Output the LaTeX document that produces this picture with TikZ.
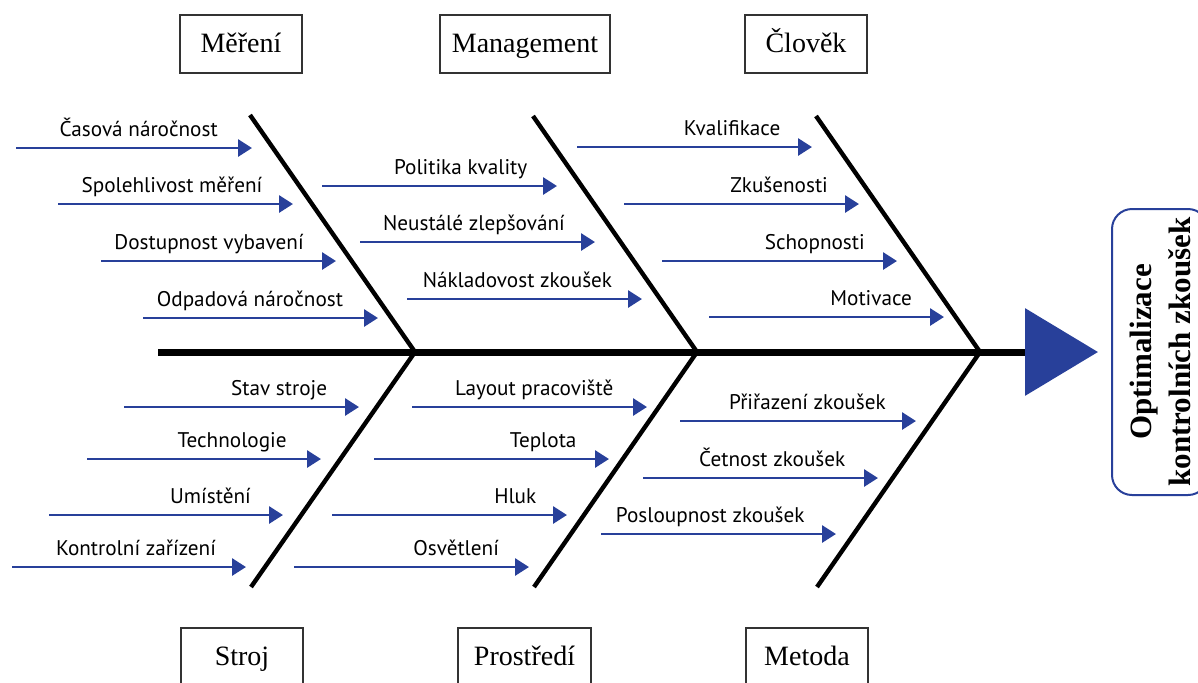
\documentclass[tikz,border=0pt]{standalone}
\usepackage{fontspec}
\setmainfont{Liberation Serif}
\newfontfamily\causefont{PT Sans}
\usetikzlibrary{positioning,arrows.meta}
\definecolor{causeblue}{HTML}{28409A}
\definecolor{boxgray}{HTML}{333333}

\begin{document}
\begin{tikzpicture}[x=0.5pt,y=-0.5pt,
    cat/.style={draw=boxgray, line width=0.6pt, minimum width=61pt, minimum height=29pt, inner xsep=6pt, text height=11pt, text depth=3pt, font=\fontsize{14}{16}\selectfont},
    effect/.style={draw=causeblue, line width=1pt, rounded corners=10pt, rotate=90, minimum width=143pt, minimum height=48pt, align=center, font=\bfseries\fontsize{15.5}{19.5}\selectfont},
    bone/.style={line width=2.2pt},
    spine/.style={line width=3.5pt, shorten >=6.5pt, -{Triangle[length=36.5pt,width=43pt,color=causeblue]}},
    cause/.style={draw=causeblue, line width=1.45pt, -{Triangle[length=7pt,width=8.5pt]}},
    lbl/.style={anchor=base, yshift=6pt, inner sep=0pt, text=black, font=\causefont\fontsize{10.6}{12}\selectfont},
  ]
  \useasboundingbox (0,0) rectangle (1198,682);

  % categories
  \node[cat] (meas) at (241,44) {Měření};
  \node[cat, minimum width=85pt] (mgmt) at (525,44) {Management};
  \node[cat] (man) at (806,44) {Člověk};
  \node[cat] (mach) at (242,657) {Stroj};
  \node[cat, minimum width=66.5pt] (env) at (524.5,657) {Prostředí};
  \node[cat] (meth) at (807,657) {Metoda};

  % effect and spine
  \node[effect] (effect) at (1160,352) {Optimalizace\\kontrolních zkoušek};
  \coordinate (tail) at (158,352);
  \draw[spine] (tail) -- (effect);

  % bones
  \coordinate (j1) at (415,352);
  \coordinate (j2) at (697,352);
  \coordinate (j3) at (980,352);
  \coordinate (b1t) at (250,115);
  \coordinate (b1b) at (251,587);
  \coordinate (b2t) at (533,116);
  \coordinate (b2b) at (534,587);
  \coordinate (b3t) at (816,116);
  \coordinate (b3b) at (817,587);
  \draw[bone] (b1t) -- (j1) -- (b1b);
  \draw[bone] (b2t) -- (j2) -- (b2b);
  \draw[bone] (b3t) -- (j3) -- (b3b);

  % Měření
  \coordinate (m1) at (16,148);  \coordinate (m1e) at (252,148);
  \coordinate (m2) at (58,204);  \coordinate (m2e) at (293,204);
  \coordinate (m3) at (101,261); \coordinate (m3e) at (336,261);
  \coordinate (m4) at (143,318); \coordinate (m4e) at (378,318);
  \draw[cause] (m1) -- (m1e) node[lbl, pos=0.52] {Časová náročnost};
  \draw[cause] (m2) -- (m2e) node[lbl, pos=0.485] {Spolehlivost měření};
  \draw[cause] (m3) -- (m3e) node[lbl, pos=0.46] {Dostupnost vybavení};
  \draw[cause] (m4) -- (m4e) node[lbl, pos=0.455] {Odpadová náročnost};

  % Management
  \coordinate (g1) at (322,186); \coordinate (g1e) at (557,186);
  \coordinate (g2) at (360,242); \coordinate (g2e) at (595,242);
  \coordinate (g3) at (407,299); \coordinate (g3e) at (642,299);
  \draw[cause] (g1) -- (g1e) node[lbl, pos=0.59] {Politika kvality};
  \draw[cause] (g2) -- (g2e) node[lbl, pos=0.485] {Neustálé zlepšování};
  \draw[cause] (g3) -- (g3e) node[lbl, pos=0.47] {Nákladovost zkoušek};

  % Člověk
  \coordinate (h1) at (577,147); \coordinate (h1e) at (812,147);
  \coordinate (h2) at (624,204); \coordinate (h2e) at (859,204);
  \coordinate (h3) at (662,261); \coordinate (h3e) at (897,261);
  \coordinate (h4) at (709,317); \coordinate (h4e) at (944,317);
  \draw[cause] (h1) -- (h1e) node[lbl, pos=0.66] {Kvalifikace};
  \draw[cause] (h2) -- (h2e) node[lbl, pos=0.66] {Zkušenosti};
  \draw[cause] (h3) -- (h3e) node[lbl, pos=0.65] {Schopnosti};
  \draw[cause] (h4) -- (h4e) node[lbl, pos=0.69] {Motivace};

  % Stroj
  \coordinate (s1) at (124,407); \coordinate (s1e) at (359,407);
  \coordinate (s2) at (87,459);  \coordinate (s2e) at (321,459);
  \coordinate (s3) at (49,515);  \coordinate (s3e) at (283,515);
  \coordinate (s4) at (12,567);  \coordinate (s4e) at (246,567);
  \draw[cause] (s1) -- (s1e) node[lbl, pos=0.66] {Stav stroje};
  \draw[cause] (s2) -- (s2e) node[lbl, pos=0.62] {Technologie};
  \draw[cause] (s3) -- (s3e) node[lbl, pos=0.69] {Umístění};
  \draw[cause] (s4) -- (s4e) node[lbl, pos=0.53] {Kontrolní zařízení};

  % Prostředí
  \coordinate (p1) at (412,407); \coordinate (p1e) at (647,407);
  \coordinate (p2) at (374,459); \coordinate (p2e) at (609,459);
  \coordinate (p3) at (332,515); \coordinate (p3e) at (567,515);
  \coordinate (p4) at (294,567); \coordinate (p4e) at (529,567);
  \draw[cause] (p1) -- (p1e) node[lbl, pos=0.52] {Layout pracoviště};
  \draw[cause] (p2) -- (p2e) node[lbl, pos=0.72] {Teplota};
  \draw[cause] (p3) -- (p3e) node[lbl, pos=0.78] {Hluk};
  \draw[cause] (p4) -- (p4e) node[lbl, pos=0.69] {Osvětlení};

  % Metoda
  \coordinate (t1) at (680,421); \coordinate (t1e) at (916,421);
  \coordinate (t2) at (643,478); \coordinate (t2e) at (878,478);
  \coordinate (t3) at (601,534); \coordinate (t3e) at (836,534);
  \draw[cause] (t1) -- (t1e) node[lbl, pos=0.54] {Přiřazení zkoušek};
  \draw[cause] (t2) -- (t2e) node[lbl, pos=0.55] {Četnost zkoušek};
  \draw[cause] (t3) -- (t3e) node[lbl, pos=0.465] {Posloupnost zkoušek};
\end{tikzpicture}
\end{document}
